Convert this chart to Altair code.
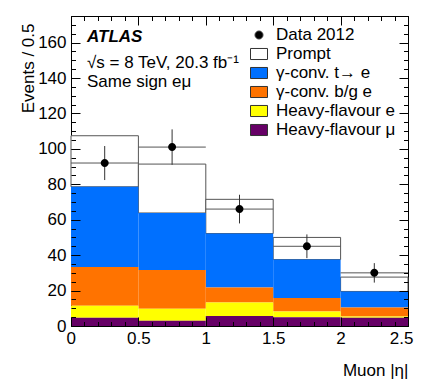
import altair as alt
import pandas as pd

FONT = "Liberation Sans"
W, H = 337, 310

# ---------------- data ----------------
bin_lo = [0.0, 0.5, 1.0, 1.5, 2.0]
bin_hi = [0.5, 1.0, 1.5, 2.0, 2.5]
bin_center = [0.25, 0.75, 1.25, 1.75, 2.25]

hf_mu = [4.6, 2.9, 5.6, 5.0, 4.6]
hf_e = [6.8, 6.8, 7.7, 3.2, 0.8]
conv_bg = [21.9, 21.9, 8.5, 7.6, 5.1]
conv_t = [45.3, 32.2, 30.4, 21.7, 9.0]
prompt = [28.8, 27.6, 19.3, 12.5, 8.1]

data_vals = [92, 101, 66, 45, 30]
data_err = [9.6, 10.0, 8.1, 6.7, 5.5]

labels = ["Data 2012", "Prompt", "γ-conv. t→ e", "γ-conv. b/g e",
          "Heavy-flavour e", "Heavy-flavour μ"]
colors = ["black", "white", "#0070ff", "#ff7300", "#ffff00", "#660066"]

x_major = [0, 0.5, 1, 1.5, 2, 2.5]
x_minor = [round(i * 0.1, 1) for i in range(26)]
y_major = [0, 20, 40, 60, 80, 100, 120, 140, 160]
y_minor = list(range(0, 176, 5))

CIRCLE = "M0.47,0A0.47,0.47,0,1,1,-0.47,0A0.47,0.47,0,1,1,0.47,0Z"
RECT = "M-1,-0.65L1,-0.65L1,0.65L-1,0.65Z"
shapes = [CIRCLE, RECT, RECT, RECT, RECT, RECT]

# ---------------- tables ----------------
comps = [("Prompt", prompt, 4), ("γ-conv. t→ e", conv_t, 3),
         ("γ-conv. b/g e", conv_bg, 2), ("Heavy-flavour e", hf_e, 1),
         ("Heavy-flavour μ", hf_mu, 0)]
rows = []
for name, vals, o in comps:
    for lo, hi, v in zip(bin_lo, bin_hi, vals):
        rows.append(dict(label=name, lo=lo, hi=hi, count=v, ord=o))
bars_df = pd.DataFrame(rows)

pts_df = pd.DataFrame(dict(
    label=["Data 2012"] * 5, c=bin_center, lo=bin_lo, hi=bin_hi,
    n=data_vals,
    ylo=[v - e for v, e in zip(data_vals, data_err)],
    yhi=[v + e for v, e in zip(data_vals, data_err)],
))

xscale = alt.Scale(domain=[0, 2.5], nice=False, zero=False)
yscale = alt.Scale(domain=[0, 175], nice=False)
cscale = alt.Scale(domain=labels, range=colors)
sscale = alt.Scale(domain=labels, range=shapes)

leg = alt.Legend(orient="none", legendX=179, legendY=10, title=None,
                 labelFont=FONT, labelFontSize=17, labelColor="black",
                 symbolSize=289, symbolStrokeColor="#333", symbolStrokeWidth=1,
                 rowPadding=2, labelOffset=8, padding=0)


def tick_axis(orient, offset, values, size):
    return alt.Axis(orient=orient, offset=offset, values=values, tickSize=size,
                    labels=False, domain=False, grid=False, title=None,
                    ticks=True, tickColor="black", tickWidth=1, zindex=1)


ax_x_main = alt.Axis(orient="bottom", values=x_major, format="~g", ticks=False,
                     tickSize=0, domain=False, grid=False, labelFont=FONT,
                     labelFontSize=17, labelColor="black", labelPadding=4,
                     labelFlush=True, labelFlushOffset=5, labelOverlap=False,
                     title="Muon |η|", titleFont=FONT, titleFontSize=17,
                     titleFontWeight="normal", titleColor="black",
                     titleX=W, titleY=49, titleAlign="right",
                     titleBaseline="alphabetic", titleAnchor="end")
ax_y_main = alt.Axis(orient="left", values=y_major, ticks=False, tickSize=0,
                     domain=False, grid=False, labelFont=FONT, labelFontSize=17,
                     labelColor="black", labelPadding=5,
                     labelFlush=False, labelOverlap=False,
                     title="Events / 0.5", titleFont=FONT, titleFontSize=17,
                     titleFontWeight="normal", titleColor="black",
                     titleX=-38, titleY=7, titleAngle=270, titleAlign="right",
                     titleBaseline="alphabetic", titleAnchor="end")

bars = alt.Chart(bars_df).transform_stack(
    stack="count", as_=["y0", "y1"], groupby=["lo"],
    sort=[alt.SortField("ord", order="ascending")],
).mark_bar(strokeWidth=1).encode(
    x=alt.X("lo:Q", scale=xscale, axis=ax_x_main),
    x2="hi:Q",
    y=alt.Y("y0:Q", scale=yscale, axis=ax_y_main),
    y2="y1:Q",
    color=alt.Color("label:N", scale=cscale, legend=leg),
    stroke=alt.condition(alt.datum.label == "Prompt", alt.value("#555"),
                         alt.value("transparent")),
)

hrule = alt.Chart(pts_df).mark_rule(color="#555", strokeWidth=1).encode(
    x=alt.X("lo:Q", scale=xscale, axis=tick_axis("bottom", -H, x_major, 9)),
    x2="hi:Q",
    y=alt.Y("n:Q", scale=yscale, axis=tick_axis("left", -W, y_major, 9)),
)

vrule = alt.Chart(pts_df).mark_rule(color="#333", strokeWidth=1).encode(
    x=alt.X("c:Q", scale=xscale, axis=tick_axis("top", -H, x_major, 9)),
    y=alt.Y("ylo:Q", scale=yscale, axis=tick_axis("right", -W, y_major, 9)),
    y2="yhi:Q",
)

hidden = alt.Chart(pts_df).mark_rule(opacity=0).encode(
    x=alt.X("lo:Q", scale=xscale, axis=tick_axis("bottom", -H, x_minor, 4.5)),
    x2="hi:Q",
    y=alt.Y("n:Q", scale=yscale, axis=tick_axis("left", -W, y_minor, 4.5)),
)

points = alt.Chart(pts_df).mark_point(filled=True, size=289, opacity=1).encode(
    x=alt.X("c:Q", scale=xscale, axis=tick_axis("top", -H, x_minor, 4.5)),
    y=alt.Y("n:Q", scale=yscale, axis=tick_axis("right", -W, y_minor, 4.5)),
    color=alt.Color("label:N", scale=cscale, legend=leg),
    shape=alt.Shape("label:N", scale=sscale, legend=leg),
)

ann_df = pd.DataFrame(dict(t=["x"]))


def note(text, x, y, **kw):
    return alt.Chart(ann_df).mark_text(
        text=text, font=FONT, fontSize=17, color="black", align="left",
        baseline="alphabetic", **kw
    ).encode(x=alt.value(x), y=alt.value(y))


t1 = note("ATLAS", 16, 25.5, fontStyle="italic", fontWeight="bold")
t2 = note("√s = 8 TeV, 20.3 fb⁻¹", 16, 52)
t3 = note("Same sign eμ", 16, 71)

chart = alt.layer(bars, hrule, vrule, hidden, points, t1, t2, t3).resolve_axis(
    x="independent", y="independent"
).properties(
    width=W, height=H,
    autosize=alt.AutoSizeParams(type="none"),
    padding={"left": 63, "top": 8, "right": 9, "bottom": 57},
).configure_view(stroke="black", strokeWidth=1)

chart.save("out.html", embed_options={"renderer": "svg", "actions": False})
